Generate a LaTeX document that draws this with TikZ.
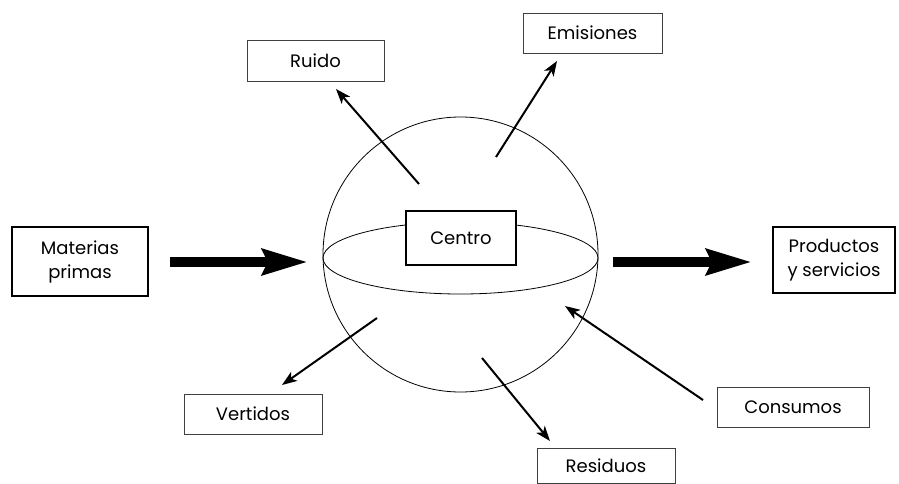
\documentclass[tikz,border=0pt]{standalone}
\usepackage{fontspec}
\setmainfont{Poppins}
\usetikzlibrary{arrows.meta}
\begin{document}
\begin{tikzpicture}[x=1pt,y=-1pt,
  thinbox/.style={draw=black!75,line width=0.9pt,inner sep=0pt,font=\fontsize{18}{24}\selectfont,align=center},
  thickbox/.style={draw=black,line width=2.4pt,inner sep=0pt,font=\fontsize{18}{24}\selectfont,align=center},
  flow/.style={line width=2pt,-{Stealth[length=15pt,width=11pt,inset=4pt]}},
  bigflow/.style={line width=10pt,-{Stealth[length=45pt,width=25pt,inset=5pt]}}]
\useasboundingbox (0,0) rectangle (899,484);
% sphere
\draw[line width=0.8pt] (460.5,254.5) circle (137.5);
\draw[line width=0.8pt] (460.5,258) ellipse (137.5 and 36);
% boxes
\node[thickbox,fill=white,minimum width=110pt,minimum height=54pt] (centro) at (461,238) {Centro};
\node[thickbox,minimum width=136pt,minimum height=69pt] (mat) at (80,261.5) {Materias\\primas};
\node[thickbox,minimum width=122pt,minimum height=66pt] (prod) at (834,260) {Productos\\y servicios};
\node[thinbox,minimum width=137pt,minimum height=41pt] (ruido) at (315.5,60.5) {Ruido};
\node[thinbox,minimum width=139pt,minimum height=40pt] (emis) at (592.5,33) {Emisiones};
\node[thinbox,minimum width=138pt,minimum height=40pt] (vert) at (253,414) {Vertidos};
\node[thinbox,minimum width=152pt,minimum height=40pt] (cons) at (793,407) {Consumos};
\node[thinbox,minimum width=138pt,minimum height=35pt] (resid) at (606,466) {Residuos};
% endpoints
\coordinate (r0) at (419,184); \coordinate (r1) at (336,89);
\coordinate (e0) at (496,157); \coordinate (e1) at (557,61);
\coordinate (v0) at (377,318); \coordinate (v1) at (282,385);
\coordinate (s0) at (482,358); \coordinate (s1) at (550,441);
\coordinate (c0) at (703,400); \coordinate (c1) at (565,306);
\coordinate (m0) at (170,262); \coordinate (m1) at (308,262);
\coordinate (p0) at (613,262); \coordinate (p1) at (752,262);
% connectors
\draw[flow] (r0) -- (r1);
\draw[flow] (e0) -- (e1);
\draw[flow] (v0) -- (v1);
\draw[flow] (s0) -- (s1);
\draw[flow] (c0) -- (c1);
\draw[bigflow] (m0) -- (m1);
\draw[bigflow] (p0) -- (p1);
\end{tikzpicture}
\end{document}
